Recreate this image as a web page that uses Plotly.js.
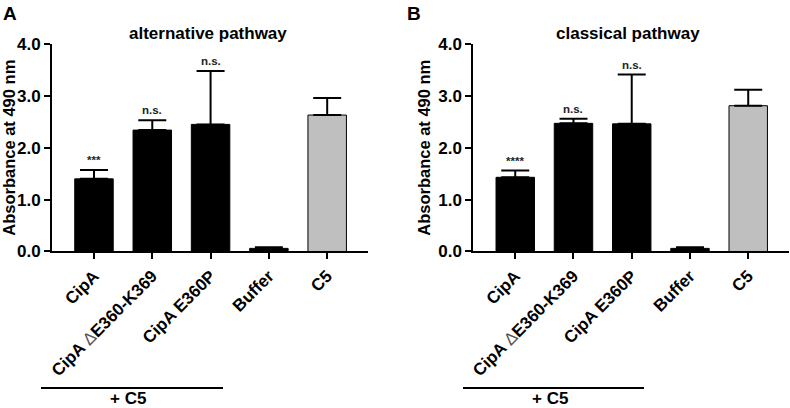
<!DOCTYPE html>
<html>
<head>
<meta charset="utf-8">
<script src="https://cdn.plot.ly/plotly-3.0.1.min.js"></script>
<style>html,body{margin:0;padding:0;background:#fff;}#chart{width:790px;height:408px;}</style>
</head>
<body>
<div id="chart"></div>
<script>
// ---- data ----
const categories = ["CipA", "CipA <span style=\"font-weight:normal;fill:#555\">Δ</span>E360-K369", "CipA E360P", "Buffer", "C5"];
const altMeans = [1.40, 2.34, 2.45, 0.06, 2.63];
const altErrors = [0.17, 0.19, 1.03, 0.02, 0.33];
const altSig = ["***", "n.s.", "n.s.", "", ""];
const clsMeans = [1.43, 2.47, 2.46, 0.06, 2.81];
const clsErrors = [0.13, 0.09, 0.95, 0.02, 0.31];
const clsSig = ["****", "n.s.", "n.s.", "", ""];
const barColors = ["#000000", "#000000", "#000000", "#000000", "#bfbfbf"];
const yTicks = [0, 1, 2, 3, 4];
const panelTitles = ["alternative pathway", "classical pathway"];
const panelLetters = ["A", "B"];
const yTitle = "Absorbance at 490 nm";
const groupLabel = "+ C5";

const FONT = "Liberation Sans, Arial, Helvetica, sans-serif";
const bold = (size) => ({family: FONT, size: size, color: "#000", weight: "bold"});

function barTrace(means, errs, xa, ya) {
  return {
    type: "bar", x: categories, y: means, xaxis: xa, yaxis: ya,
    width: 0.66,
    marker: {color: barColors, line: {color: "#000", width: 1}},
    error_y: {type: "data", symmetric: false, array: errs, arrayminus: errs.map(() => 0),
              color: "#000", thickness: 2, width: 14},
    hoverinfo: "skip", showlegend: false
  };
}

const data = [barTrace(altMeans, altErrors, "x", "y"), barTrace(clsMeans, clsErrors, "x2", "y2")];

function xAxis(domain, anchor) {
  return {domain: domain, anchor: anchor, type: "category", range: [-0.72, 4.7],
    showline: true, linecolor: "#000", linewidth: 2, ticks: "outside", ticklen: 6, tickwidth: 2,
    tickcolor: "#000", tickangle: -45, tickfont: bold(17), showgrid: false, zeroline: false, fixedrange: true};
}
function yAxis(domain, anchor) {
  return {domain: domain, anchor: anchor, range: [0, 4], tickvals: yTicks, tickformat: ".1f",
    showline: true, linecolor: "#000", linewidth: 2, ticks: "outside", ticklen: 6, tickwidth: 2,
    tickcolor: "#000", tickfont: bold(17), showgrid: false, zeroline: false, fixedrange: true,
    title: {text: yTitle, font: bold(16.5), standoff: 3}};
}

const yDom = [0.3836, 0.8922];
const annotations = [];
function sigAnn(sig, means, errs, xa, ya) {
  sig.forEach((s, i) => {
    if (!s) return;
    annotations.push({x: categories[i], y: means[i] + errs[i], xref: xa, yref: ya, text: s,
      showarrow: false, yanchor: "bottom", yshift: 2, font: {family: FONT, size: 11.5, color: "#222", weight: "bold"}});
  });
}
sigAnn(altSig, altMeans, altErrors, "x", "y");
sigAnn(clsSig, clsMeans, clsErrors, "x2", "y2");

const paperText = (x, y, text, size) => ({x: x/790, y: 1 - y/408, xref: "paper", yref: "paper", text: text,
  showarrow: false, font: bold(size), xanchor: "center", yanchor: "middle", borderpad: 0});
annotations.push(paperText(207.5, 33, panelTitles[0], 17));
annotations.push(paperText(628, 33, panelTitles[1], 17));
annotations.push(paperText(10, 13, panelLetters[0], 19));
annotations.push(paperText(414, 13, panelLetters[1], 19));
annotations.push(paperText(128, 398, groupLabel, 17));
annotations.push(paperText(550, 398, groupLabel, 17));

const shapes = [
  {type: "line", xref: "paper", yref: "paper", x0: 41/790, x1: 223/790, y0: 1 - 388/408, y1: 1 - 388/408, line: {color: "#000", width: 2}},
  {type: "line", xref: "paper", yref: "paper", x0: 463/790, x1: 644/790, y0: 1 - 388/408, y1: 1 - 388/408, line: {color: "#000", width: 2}}
];

const layout = {
  width: 790, height: 408,
  margin: {l: 0, r: 0, t: 0, b: 0},
  paper_bgcolor: "#fff", plot_bgcolor: "#fff",
  font: {family: FONT, color: "#000"},
  bargap: 0.34,
  xaxis: xAxis([52/790, 368/790], "y"),
  yaxis: yAxis(yDom, "x"),
  xaxis2: xAxis([473.3/790, 789/790], "y2"),
  yaxis2: yAxis(yDom, "x2"),
  annotations: annotations,
  shapes: shapes
};

Plotly.newPlot("chart", data, layout, {displayModeBar: false, staticPlot: true});
</script>
</body>
</html>
